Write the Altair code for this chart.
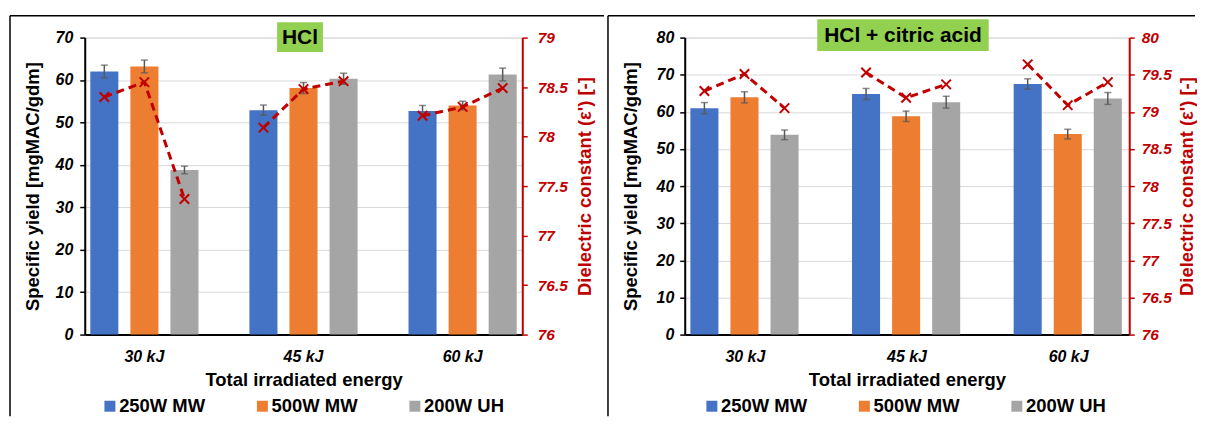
import altair as alt
import pandas as pd

FONT = "Liberation Sans"
RED = "#C00000"
GRAY_ERR = "#595959"

categories = ["30 kJ", "45 kJ", "60 kJ"]
series = ["250W MW", "500W MW", "200W UH"]
colors = ["#4472C4", "#ED7D31", "#A5A5A5"]

# values ordered category-major: (30 kJ: 250W, 500W, 200W), (45 kJ: ...), (60 kJ: ...)
hcl_yield = [62.0, 63.2, 38.8, 52.9, 58.1, 60.3, 52.7, 54.0, 61.3]
hcl_err = [1.5, 1.5, 0.9, 1.2, 1.3, 1.3, 1.3, 1.0, 1.5]
hcl_diel = [78.40, 78.55, 77.37, 78.09, 78.48, 78.56, 78.21, 78.30, 78.49]

cit_yield = [61.0, 63.9, 53.8, 64.8, 58.8, 62.6, 67.5, 54.0, 63.6]
cit_err = [1.5, 1.5, 1.3, 1.5, 1.4, 1.6, 1.4, 1.3, 1.6]
cit_diel = [79.28, 79.51, 79.05, 79.53, 79.19, 79.37, 79.64, 79.09, 79.40]

hcl_yticks = [0, 10, 20, 30, 40, 50, 60, 70]
cit_yticks = [0, 10, 20, 30, 40, 50, 60, 70, 80]
hcl_dticks = [76, 76.5, 77, 77.5, 78, 78.5, 79]
cit_dticks = [76, 76.5, 77, 77.5, 78, 78.5, 79, 79.5, 80]


def make_df(y, e, d):
    rows = []
    for i, c in enumerate(categories):
        for j, s in enumerate(series):
            k = i * 3 + j
            rows.append(dict(energy=c, series=s, idx=j, yld=y[k],
                             lo=y[k] - e[k], hi=y[k] + e[k], diel=d[k]))
    return pd.DataFrame(rows)


def panel(df, title, yticks, dticks, width, p):
    base = alt.Chart(df)
    x = alt.X("energy:N", sort=categories,
              scale=alt.Scale(domain=categories, paddingInner=0.32, paddingOuter=0.035),
              axis=alt.Axis(title="Total irradiated energy", labelAngle=0, ticks=False, tickSize=0,
                            labelPadding=14, domainColor="black", domainWidth=2,
                            labelFont=FONT, labelFontSize=16, labelFontWeight="bold",
                            labelFontStyle="italic", labelColor="black",
                            titleFont=FONT, titleFontSize=18.5, titleFontWeight="bold",
                            titleColor="black", titlePadding=6, grid=False))
    xo = alt.XOffset("series:N", sort=series,
                     scale=alt.Scale(domain=series, paddingInner=0.3, paddingOuter=0))
    ytitle = "Specific yield [mgMAC/gdm]"
    yscale = alt.Scale(domain=[yticks[0], yticks[-1]], nice=False)
    yaxis = alt.Axis(title=ytitle, values=yticks, tickCount=len(yticks), labelOverlap=False,
                     grid=True, gridColor="#D9D9D9", gridWidth=1,
                     domainColor="black", domainWidth=2, tickColor="black", tickWidth=1.5,
                     tickSize=5, labelPadding=p["lpad"], labelFont=FONT, labelFontSize=16,
                     labelFontWeight="bold", labelFontStyle="italic", labelColor="black",
                     titleFont=FONT, titleFontSize=18.5, titleFontWeight="bold",
                     titleColor="black", titlePadding=p["ltpad"])
    color = alt.Color("series:N", sort=series,
                      scale=alt.Scale(domain=series, range=colors),
                      legend=alt.Legend(title=None, orient="none", legendX=p["legx"], legendY=360.5,
                                        direction="horizontal", symbolType="square",
                                        symbolSize=121, symbolStrokeWidth=0,
                                        labelFont=FONT, labelFontSize=18.5,
                                        labelFontWeight="bold", labelColor="black",
                                        columnPadding=48, labelOffset=0, padding=0))
    bars = base.mark_bar().encode(x=x, xOffset=xo,
                                  y=alt.Y("yld:Q", scale=yscale, axis=yaxis, title=ytitle),
                                  color=color)
    err = base.mark_rule(color=GRAY_ERR, strokeWidth=1.5).encode(
        x=x, xOffset=xo, y=alt.Y("lo:Q", title=ytitle), y2="hi:Q")
    cap_lo = base.mark_tick(color=GRAY_ERR, thickness=1.5, size=7).encode(
        x=x, xOffset=xo, y=alt.Y("lo:Q", title=ytitle))
    cap_hi = base.mark_tick(color=GRAY_ERR, thickness=1.5, size=7).encode(
        x=x, xOffset=xo, y=alt.Y("hi:Q", title=ytitle))

    tdf = pd.DataFrame({"t": [title]})
    tb = alt.Chart(tdf)
    box = tb.mark_rect(color="#92D050").encode(
        x=alt.value(p["bx0"]), x2=alt.value(p["bx1"]), y=alt.value(p["by0"]), y2=alt.value(p["by1"]))
    ttext = tb.mark_text(font=FONT, fontSize=21, fontWeight="bold", color="black",
                         baseline="middle", align="center").encode(
        text="t:N", x=alt.value((p["bx0"] + p["bx1"]) / 2), y=alt.value((p["by0"] + p["by1"]) / 2 + 1))
    frame = [tb.mark_rule(color="black", strokeWidth=1.5).encode(
        x=alt.value(p["fx0"]), x2=alt.value(p["fx1"]), y=alt.value(-22)),
        tb.mark_rule(color="black", strokeWidth=1.5).encode(
        x=alt.value(p["fx0"]), y=alt.value(-22), y2=alt.value(380))]

    left = alt.layer(bars, err, cap_lo, cap_hi, box, ttext, *frame)

    dscale = alt.Scale(domain=[dticks[0], dticks[-1]], nice=False)
    daxis = alt.Axis(orient="right", values=dticks, format="~g", labelOverlap=False, grid=False,
                     title="Dielectric constant (ε') [-]",
                     domainColor=RED, domainWidth=2, tickColor=RED, tickWidth=1.5, tickSize=5,
                     labelPadding=p["rpad"], labelFont=FONT, labelFontSize=15.5,
                     labelFontWeight="bold", labelFontStyle="italic", labelColor=RED,
                     titleFont=FONT, titleFontSize=18.5, titleFontWeight="bold",
                     titleColor=RED, titleAngle=270, titleBaseline="top",
                     titlePadding=p["rtpad"])
    dy = alt.Y("diel:Q", scale=dscale, axis=daxis, title="Dielectric constant (ε') [-]")
    line = base.mark_line(color=RED, strokeWidth=3, strokeDash=[8, 5]).encode(
        x=x, xOffset=xo, y=dy, detail="energy:N", order="idx:Q")
    pts = base.mark_point(shape="M-1,-1L1,1M-1,1L1,-1", size=90, color=RED,
                          strokeWidth=2, filled=False, opacity=1).encode(x=x, xOffset=xo, y=dy)
    right = alt.layer(line, pts)

    return alt.layer(left, right).resolve_scale(y="independent").properties(
        width=width, height=298)


p_left = dict(lpad=7, ltpad=13, rpad=10, rtpad=8, legx=16,
              bx0=193, bx1=239, by0=-15.5, by1=14.5, fx0=-75, fx1=521)
p_right = dict(lpad=6, ltpad=16, rpad=7, rtpad=6, legx=18,
               bx0=133, bx1=305, by0=-18.5, by1=13.5, fx0=-77, fx1=512)

c1 = panel(make_df(hcl_yield, hcl_err, hcl_diel), "HCl", hcl_yticks, hcl_dticks, 439, p_left)
c2 = panel(make_df(cit_yield, cit_err, cit_diel), "HCl + citric acid", cit_yticks, cit_dticks, 446, p_right)

chart = alt.hconcat(c1, c2, spacing=0).resolve_scale(color="independent").resolve_legend(
    color="independent").properties(
    padding={"left": 0, "top": 5, "right": 0, "bottom": -2}
).configure_view(strokeWidth=0).configure(background="white")

chart.save("out.html", embed_options={"renderer": "svg", "actions": False})
